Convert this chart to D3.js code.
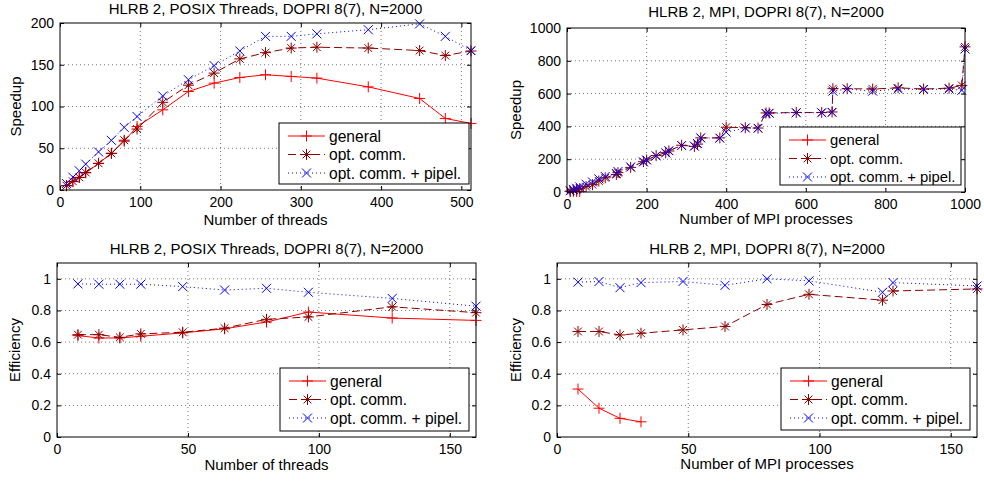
<!DOCTYPE html>
<html lang="en">
<head>
   <meta charset="UTF-8">
   <title>HLRB 2 speedup and efficiency</title>
   <script src="https://d3js.org/d3.v7.min.js"></script>
   <style>
       body {
           margin: 0;
           background: #fff;
       }
       svg {
           font-family: "Liberation Sans", Arial, Helvetica, sans-serif;
       }
       .tick text {
           font-size: 14px;
           fill: #000;
       }
       .tick line {
           stroke: #000;
       }
   </style>
</head>
<body>
   <div id="chart"></div>

   <script>
       // ---- data ----
       const legendLabels = ["general", "opt. comm.", "opt. comm. + pipel."];

       // POSIX threads, speedup
       const thrSpeedX = [8, 16, 24, 32, 48, 64, 80, 96, 128, 160, 192, 224, 256, 288, 320, 384, 448, 480, 512];
       const thrSpeedGeneral = [5.1, 10, 15, 20.5, 31.7, 44, 58.4, 76, 96, 118, 128, 134.7, 138, 136, 134, 123.5, 109.6, 85.7, 79.7];
       const thrSpeedOpt = [5.2, 10.4, 15.1, 21, 32, 43.8, 59.6, 73, 105, 125.5, 140, 157, 164.5, 170, 171, 170, 167, 161, 166.5];
       const thrSpeedPipel = [7.8, 15.4, 23, 31, 45.6, 59.5, 75, 88, 112.6, 132, 149, 166.5, 184, 184, 187, 192, 199, 184, 167];

       // MPI, speedup
       const mpiSpeedGeneralX = [8, 16, 24, 32];
       const mpiSpeedGeneral = [2.4, 2.9, 2.8, 3.1];
       const mpiSpeedX = [8, 16, 24, 32, 48, 64, 80, 96, 124, 128, 160, 192, 200, 224, 248, 256, 288, 320, 328, 336,
                          384, 400, 448, 480, 500, 508, 576, 640, 666, 668, 704, 768, 832, 896, 960, 992, 1000];
       const mpiSpeedOpt = [5.3, 10.7, 15.5, 21, 32.5, 44.7, 67, 86.6, 107, 118, 150, 185, 195, 222, 240, 250, 285, 278, 292, 330,
                            330, 395, 392, 390, 482, 482, 485, 485, 488, 630, 630, 628, 635, 628, 633, 650, 885];
       const mpiSpeedPipel = [7.8, 15.7, 22.7, 31.2, 47.2, 61.4, 80, 94.8, 113, 125, 153, 183, 195, 220, 238, 252, 283, 280, 296, 330,
                              328, 365, 390, 388, 478, 480, 483, 483, 485, 615, 628, 615, 628, 625, 628, 620, 872];

       // POSIX threads, efficiency
       const thrEffX = [8, 16, 24, 32, 48, 64, 80, 96, 128, 160];
       const thrEffGeneral = [0.641, 0.626, 0.626, 0.637, 0.658, 0.684, 0.727, 0.79, 0.752, 0.737];
       const thrEffOpt = [0.647, 0.647, 0.63, 0.652, 0.662, 0.688, 0.744, 0.759, 0.823, 0.786];
       const thrEffPipel = [0.968, 0.966, 0.966, 0.966, 0.951, 0.929, 0.94, 0.915, 0.876, 0.827];

       // MPI, efficiency
       const mpiEffGeneralX = [8, 16, 24, 32];
       const mpiEffGeneral = [0.303, 0.182, 0.118, 0.096];
       const mpiEffX = [8, 16, 24, 32, 48, 64, 80, 96, 124, 128, 160];
       const mpiEffOpt = [0.667, 0.667, 0.645, 0.656, 0.677, 0.699, 0.838, 0.902, 0.865, 0.923, 0.936];
       const mpiEffPipel = [0.979, 0.983, 0.944, 0.976, 0.983, 0.959, 1.0, 0.987, 0.915, 0.976, 0.955];

       // tick values
       const thrSpeedXTicks = [0, 100, 200, 300, 400, 500];
       const thrSpeedYTicks = [0, 50, 100, 150, 200];
       const mpiSpeedXTicks = [0, 200, 400, 600, 800, 1000];
       const mpiSpeedYTicks = [0, 200, 400, 600, 800, 1000];
       const effXTicks = [0, 50, 100, 150];
       const effYTicks = [0, 0.2, 0.4, 0.6, 0.8, 1];

       // ---- styles ----
       const styles = [
           { color: "#ff0000", dash: null, marker: "plus" },
           { color: "#8c0000", dash: "8,4", marker: "star" },
           { color: "#0000ff", dash: "1,3", marker: "cross" }
       ];

       const W = 984, H = 481;
       const svg = d3.select("#chart").append("svg")
           .attr("width", W)
           .attr("height", H);

       function markerPath(type) {
           const h = 5.5;
           if (type === "plus") return `M${-h},0H${h}M0,${-h}V${h}`;
           if (type === "cross") return `M${-4.5},${-4.5}L4.5,4.5M${-4.5},4.5L4.5,${-4.5}`;
           const d = 3.9;
           return `M${-h},0H${h}M0,${-h}V${h}M${-d},${-d}L${d},${d}M${-d},${d}L${d},${-d}`;
       }

       function drawPanel(p) {
           const x = d3.scaleLinear().domain(p.xDomain).range([p.box[0], p.box[1]]);
           const y = d3.scaleLinear().domain(p.yDomain).range([p.box[3], p.box[2]]);
           const g = svg.append("g");

           // grid
           g.append("g").selectAll("line")
               .data(p.xTicks.filter(v => v > p.xDomain[0] && v < p.xDomain[1]))
               .join("line")
               .attr("x1", d => x(d)).attr("x2", d => x(d))
               .attr("y1", p.box[2]).attr("y2", p.box[3])
               .attr("stroke", "#777").attr("stroke-dasharray", "1,3");
           g.append("g").selectAll("line")
               .data(p.yTicks.filter(v => v > p.yDomain[0] && v < p.yDomain[1]))
               .join("line")
               .attr("y1", d => y(d)).attr("y2", d => y(d))
               .attr("x1", p.box[0]).attr("x2", p.box[1])
               .attr("stroke", "#777").attr("stroke-dasharray", "1,3");

           // axes with inward ticks
           const fmt = d3.format("~g");
           g.append("g")
               .attr("transform", `translate(0,${p.box[3]})`)
               .call(d3.axisBottom(x).tickValues(p.xTicks).tickFormat(fmt).tickSizeInner(-4).tickSizeOuter(0).tickPadding(7));
           g.append("g")
               .attr("transform", `translate(${p.box[0]},0)`)
               .call(d3.axisLeft(y).tickValues(p.yTicks).tickFormat(fmt).tickSizeInner(-4).tickSizeOuter(0).tickPadding(6));
           g.append("g")
               .attr("transform", `translate(0,${p.box[2]})`)
               .call(d3.axisTop(x).tickValues(p.xTicks).tickFormat("").tickSizeInner(-4).tickSizeOuter(0));
           g.append("g")
               .attr("transform", `translate(${p.box[1]},0)`)
               .call(d3.axisRight(y).tickValues(p.yTicks).tickFormat("").tickSizeInner(-4).tickSizeOuter(0));
           g.selectAll(".domain").remove();
           g.selectAll(".tick text").attr("font-family", null).attr("font-size", null);

           // series
           p.series.forEach((s, i) => {
               const st = styles[i];
               const pts = s.x.map((v, k) => [v, s.y[k]]);
               g.append("path")
                   .datum(pts)
                   .attr("fill", "none")
                   .attr("stroke", st.color)
                   .attr("stroke-width", 1)
                   .attr("stroke-dasharray", st.dash)
                   .attr("d", d3.line().x(d => x(d[0])).y(d => y(d[1])));
               g.append("g").selectAll("path")
                   .data(pts)
                   .join("path")
                   .attr("transform", d => `translate(${x(d[0])},${y(d[1])})`)
                   .attr("d", markerPath(st.marker))
                   .attr("fill", "none")
                   .attr("stroke", st.color)
                   .attr("stroke-width", 1);
           });

           // box
           g.append("rect")
               .attr("x", p.box[0]).attr("y", p.box[2])
               .attr("width", p.box[1] - p.box[0]).attr("height", p.box[3] - p.box[2])
               .attr("fill", "none").attr("stroke", "#000").attr("stroke-width", 1);

           // texts
           g.append("text")
               .attr("x", (p.box[0] + p.box[1]) / 2).attr("y", p.titleY)
               .attr("text-anchor", "middle").attr("font-size", 15)
               .text(p.title);
           g.append("text")
               .attr("x", (p.box[0] + p.box[1]) / 2).attr("y", p.xlabelY)
               .attr("text-anchor", "middle").attr("font-size", 15)
               .text(p.xlabel);
           g.append("text")
               .attr("transform", `translate(${p.ylabelX},${(p.box[2] + p.box[3]) / 2}) rotate(-90)`)
               .attr("text-anchor", "middle").attr("font-size", 15)
               .text(p.ylabel);

           // legend
           const [lx, ly, lw, lh] = p.legend;
           const lg = g.append("g").attr("transform", `translate(${lx},${ly})`);
           lg.append("rect")
               .attr("width", lw).attr("height", lh)
               .attr("fill", "#fff").attr("stroke", "#000").attr("stroke-width", 1);
           legendLabels.forEach((lab, i) => {
               const st = styles[i];
               const ry = 13 + i * 18.5;
               lg.append("line")
                   .attr("x1", 9).attr("x2", 46).attr("y1", ry).attr("y2", ry)
                   .attr("stroke", st.color).attr("stroke-dasharray", st.dash);
               lg.append("path")
                   .attr("transform", `translate(27.5,${ry})`)
                   .attr("d", markerPath(st.marker))
                   .attr("fill", "none").attr("stroke", st.color);
               lg.append("text")
                   .attr("x", 50).attr("y", ry).attr("dy", "0.36em")
                   .attr("font-size", p.legendFont)
                   .text(lab);
           });
       }

       drawPanel({
           box: [60, 471, 23, 190],
           xDomain: [0, 512], yDomain: [0, 200],
           xTicks: thrSpeedXTicks, yTicks: thrSpeedYTicks,
           title: "HLRB 2, POSIX Threads, DOPRI 8(7), N=2000", titleY: 14,
           xlabel: "Number of threads", xlabelY: 225,
           ylabel: "Speedup", ylabelX: 21,
           legend: [279, 123, 190, 61], legendFont: 15.6,
           series: [
               { x: thrSpeedX, y: thrSpeedGeneral },
               { x: thrSpeedX, y: thrSpeedOpt },
               { x: thrSpeedX, y: thrSpeedPipel }
           ]
       });

       drawPanel({
           box: [567, 965, 28, 192],
           xDomain: [0, 1000], yDomain: [0, 1000],
           xTicks: mpiSpeedXTicks, yTicks: mpiSpeedYTicks,
           title: "HLRB 2, MPI, DOPRI 8(7), N=2000", titleY: 17,
           xlabel: "Number of MPI processes", xlabelY: 224,
           ylabel: "Speedup", ylabelX: 521,
           legend: [780, 127, 181, 58], legendFont: 14.8,
           series: [
               { x: mpiSpeedGeneralX, y: mpiSpeedGeneral },
               { x: mpiSpeedX, y: mpiSpeedOpt },
               { x: mpiSpeedX, y: mpiSpeedPipel }
           ]
       });

       drawPanel({
           box: [57, 476, 263, 437],
           xDomain: [0, 160], yDomain: [0, 1.1],
           xTicks: effXTicks, yTicks: effYTicks,
           title: "HLRB 2, POSIX Threads, DOPRI 8(7), N=2000", titleY: 254,
           xlabel: "Number of threads", xlabelY: 470,
           ylabel: "Efficiency", ylabelX: 20,
           legend: [280, 368, 189, 63], legendFont: 15.6,
           series: [
               { x: thrEffX, y: thrEffGeneral },
               { x: thrEffX, y: thrEffOpt },
               { x: thrEffX, y: thrEffPipel }
           ]
       });

       drawPanel({
           box: [557, 977, 263, 437],
           xDomain: [0, 160], yDomain: [0, 1.1],
           xTicks: effXTicks, yTicks: effYTicks,
           title: "HLRB 2, MPI, DOPRI 8(7), N=2000", titleY: 254,
           xlabel: "Number of MPI processes", xlabelY: 469,
           ylabel: "Efficiency", ylabelX: 521,
           legend: [781, 368, 189, 62], legendFont: 15.6,
           series: [
               { x: mpiEffGeneralX, y: mpiEffGeneral },
               { x: mpiEffX, y: mpiEffOpt },
               { x: mpiEffX, y: mpiEffPipel }
           ]
       });
   </script>
</body>
</html>
